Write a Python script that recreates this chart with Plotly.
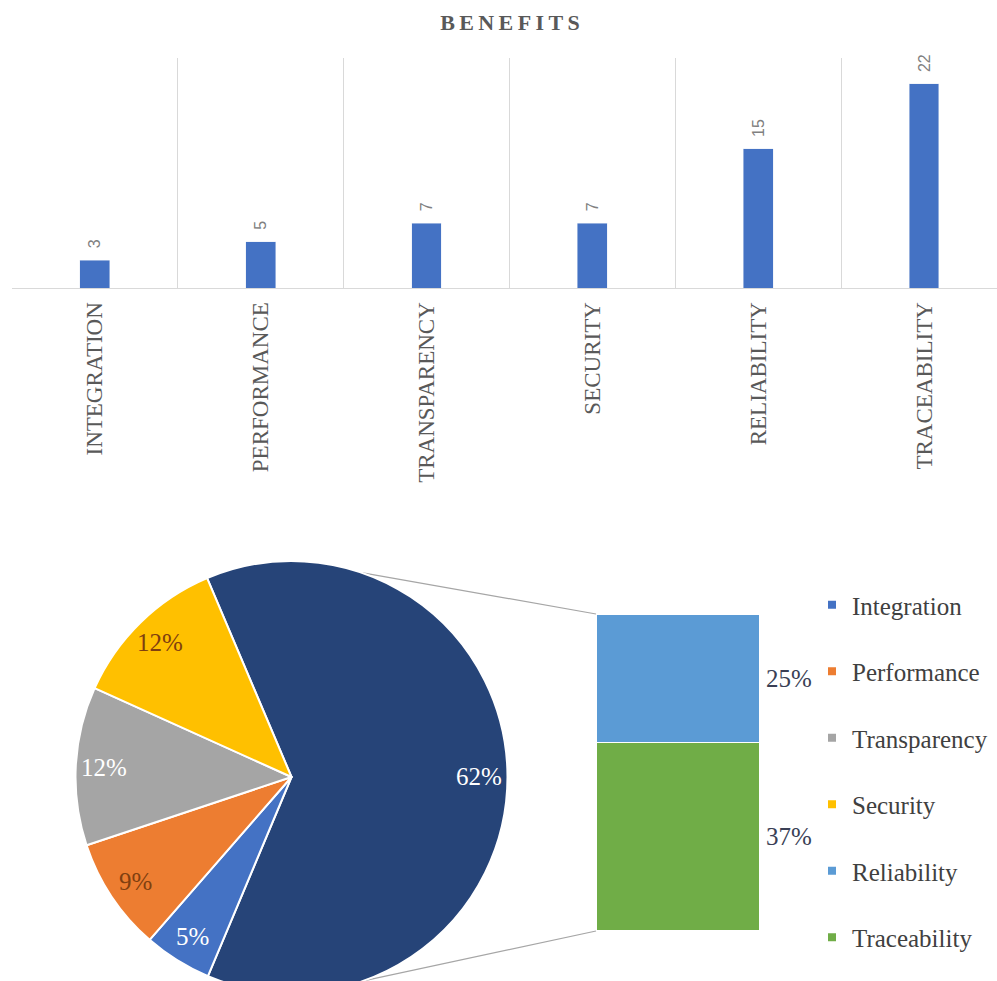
import math
import plotly.graph_objects as go

# ---- data ----
categories = ["INTEGRATION", "PERFORMANCE", "TRANSPARENCY", "SECURITY", "RELIABILITY", "TRACEABILITY"]
counts = [3, 5, 7, 7, 15, 22]

pie_names = ["Other", "Integration", "Performance", "Transparency", "Security"]
pie_values = [sum(counts[4:])] + counts[:4]
pie_text = ["62%", "5%", "9%", "12%", "12%"]

stack_names = ["Traceability", "Reliability"]
stack_values = [counts[5], counts[4]]
stack_text = ["37%", "25%"]

legend_names = ["Integration", "Performance", "Transparency", "Security", "Reliability", "Traceability"]

# ---- style ----
W, H = 997, 1000   # figure is a bit taller than the window: the pie bottom is cut off like in the source
colors = {
    "Other": "#264478",
    "Integration": "#4472C4",
    "Performance": "#ED7D31",
    "Transparency": "#A5A5A5",
    "Security": "#FFC000",
    "Reliability": "#5B9BD5",
    "Traceability": "#70AD47",
}
pie_text_colors = ["white", "white", "#7F3F10", "white", "#7F3F10"]
SERIF = "Liberation Serif, Times New Roman, serif"
GREY = "#595959"

# pie geometry (pixels)
pie_cx, pie_cy, pie_r = 291.5, 777, 216
pie_rotation = -23
label_frac = 0.87
# stacked bar box (pixels)
bar_x0, bar_x1, bar_top, bar_bot = 596, 760, 614, 931


def px_x(p):
    return p / W


def px_y(p):
    return 1 - p / H


def on_pie(angle_deg, frac=1.0):
    a = math.radians(angle_deg)
    return (pie_cx + frac * pie_r * math.sin(a), pie_cy - frac * pie_r * math.cos(a))


fig = go.Figure()

# ── top: BENEFITS column chart ──────────────────────
fig.add_trace(go.Bar(
    x=categories,
    y=counts,
    texttemplate="\u00a0\u00a0%{y}",
    textposition="outside",
    textangle=-90,
    textfont=dict(family="Liberation Sans, Arial", size=16, color="#808080"),
    marker_color="#4472C4",
    width=0.18,
    cliponaxis=False,
    showlegend=False,
    xaxis="x",
    yaxis="y",
))

# ── bottom: bar of pie ──────────────────────────────
fig.add_trace(go.Pie(
    labels=pie_names,
    values=pie_values,
    textinfo="none",
    sort=False,
    direction="clockwise",
    rotation=pie_rotation,
    marker=dict(colors=[colors[n] for n in pie_names], line=dict(color="white", width=2)),
    domain=dict(x=[px_x(pie_cx - pie_r), px_x(pie_cx + pie_r)],
                y=[px_y(pie_cy + pie_r), px_y(pie_cy - pie_r)]),
    showlegend=False,
    hoverinfo="label+value",
))

for name, v in zip(stack_names, stack_values):
    fig.add_trace(go.Bar(
        x=[0], y=[v], name=name,
        marker=dict(color=colors[name], line=dict(color="white", width=1.5)),
        width=1,
        showlegend=False,
        xaxis="x2", yaxis="y2",
    ))

# legend entries (Excel style small squares)
for name in legend_names:
    fig.add_trace(go.Scatter(
        x=[None], y=[None], mode="markers", name=name, legendgroup=name,
        marker=dict(symbol="square", size=8, color=colors[name]),
        xaxis="x2", yaxis="y2",
    ))

annotations = []

# pie percentage labels, placed near the rim like Excel does
total = sum(pie_values)
start = pie_rotation
for v, txt, col in zip(pie_values, pie_text, pie_text_colors):
    sweep = 360 * v / total
    lx, ly = on_pie(start + sweep / 2, label_frac)
    annotations.append(dict(
        x=px_x(lx), y=px_y(ly), xref="paper", yref="paper", text=txt, showarrow=False,
        xanchor="center", yanchor="middle",
        font=dict(family=SERIF, size=25, color=col),
    ))
    start += sweep

# labels to the right of the stacked bar
cum = 0
for v, txt in zip(stack_values, stack_text):
    annotations.append(dict(
        x=0.5, y=cum + v / 2, xref="x2", yref="y2", text=txt, showarrow=False,
        xanchor="left", yanchor="middle", xshift=4,
        font=dict(family=SERIF, size=25, color="#3A3F55"),
    ))
    cum += v

# connector lines from the "other" slice to the stacked bar
mid = pie_rotation + 360 * pie_values[0] / total / 2
spread = 71
shapes = []
for ang, by in [(mid - spread, bar_top), (mid + spread, bar_bot)]:
    x0, y0 = on_pie(ang)
    shapes.append(dict(type="line", xref="paper", yref="paper",
                       x0=px_x(x0), y0=px_y(y0), x1=px_x(bar_x0), y1=px_y(by),
                       line=dict(color="#A6A6A6", width=1.2), layer="below"))

fig.update_layout(
    width=W, height=H,
    margin=dict(l=0, r=0, t=0, b=0),
    paper_bgcolor="white",
    plot_bgcolor="white",
    barmode="stack",
    title=dict(
        text="<b>B\u2009E\u2009N\u2009E\u2009F\u2009I\u2009T\u2009S</b>",
        x=px_x(510), xanchor="center", y=px_y(22), yanchor="middle",
        font=dict(family=SERIF, size=22, color=GREY),
    ),
    xaxis=dict(
        domain=[px_x(12), 1], range=[-0.5, 5.44],
        tickson="boundaries", showgrid=True, gridcolor="#D9D9D9", gridwidth=1,
        showline=True, linecolor="#D9D9D9", zeroline=False,
        ticks="", tickangle=-90, ticklabelstandoff=4,
        tickfont=dict(family=SERIF, size=23, color=GREY),
        anchor="y", fixedrange=True,
    ),
    yaxis=dict(
        domain=[px_y(288), px_y(58)], range=[0, 24.8],
        visible=False, anchor="x", fixedrange=True,
    ),
    xaxis2=dict(domain=[px_x(bar_x0), px_x(bar_x1)], range=[-0.5, 0.5],
                visible=False, anchor="y2", fixedrange=True),
    yaxis2=dict(domain=[px_y(bar_bot), px_y(bar_top)], range=[0, sum(stack_values)],
                visible=False, anchor="x2", fixedrange=True),
    legend=dict(
        x=px_x(812), xanchor="left", y=px_y(582), yanchor="top",
        font=dict(family=SERIF, size=25, color="#404040"),
        tracegroupgap=31, itemwidth=30, bgcolor="rgba(0,0,0,0)",
    ),
    annotations=annotations,
    shapes=shapes,
)

# drop the default 8px page margin so the figure sits at the window's corner
fig.write_html(
    "out.html",
    config={"displayModeBar": False},
    post_script="document.body.style.margin='0';",
)
